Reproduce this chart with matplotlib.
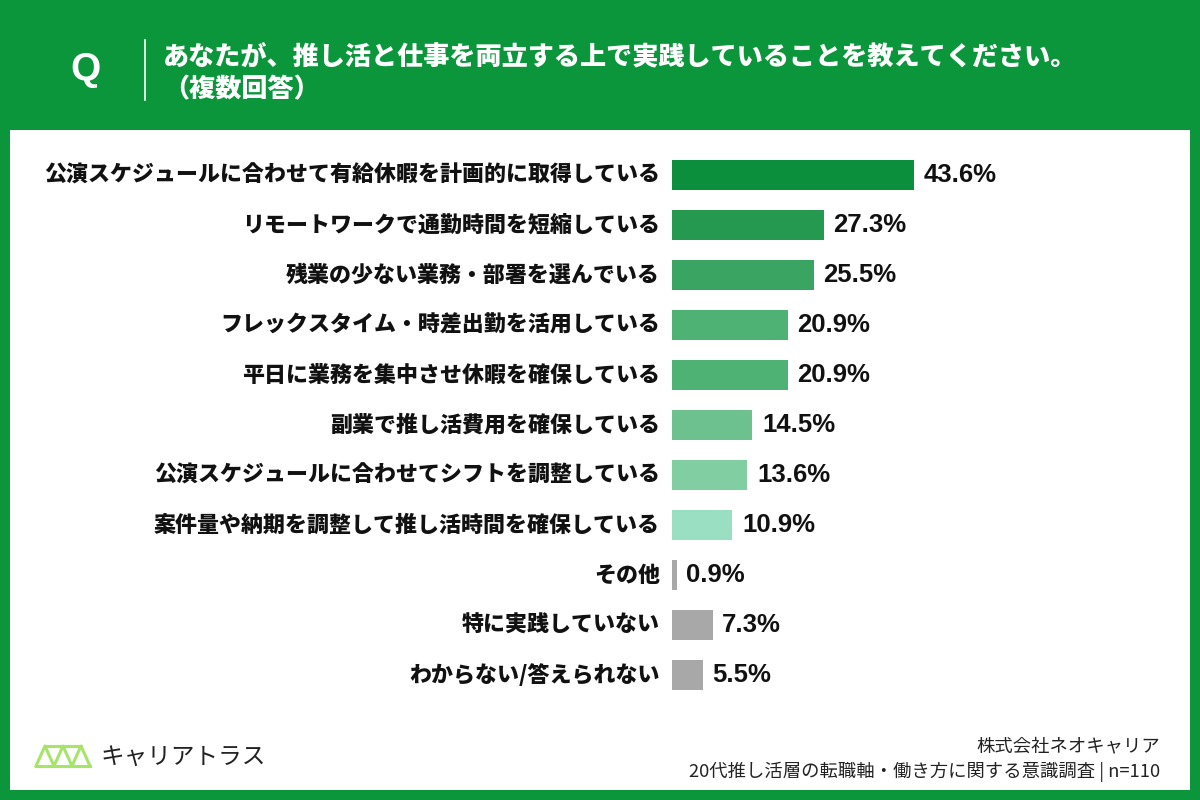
import numpy as np
import matplotlib
matplotlib.use("Agg")
import matplotlib.pyplot as plt
import matplotlib.patches as patches

plt.rcParams['font.family'] = ['Noto Sans CJK JP', 'DejaVu Sans']

# data
labels = [
    "公演スケジュールに合わせて有給休暇を計画的に取得している",
    "リモートワークで通勤時間を短縮している",
    "残業の少ない業務・部署を選んでいる",
    "フレックスタイム・時差出勤を活用している",
    "平日に業務を集中させ休暇を確保している",
    "副業で推し活費用を確保している",
    "公演スケジュールに合わせてシフトを調整している",
    "案件量や納期を調整して推し活時間を確保している",
    "その他",
    "特に実践していない",
    "わからない/答えられない",
]
values = [43.6, 27.3, 25.5, 20.9, 20.9, 14.5, 13.6, 10.9, 0.9, 7.3, 5.5]
colors = ["#0b8f3d", "#25994f", "#3aa463", "#4db274", "#4db274",
          "#6cc18f", "#80cea1", "#9adfc2", "#a8a8a8", "#a8a8a8", "#a8a8a8"]

title_line1 = "あなたが、推し活と仕事を両立する上で実践していることを教えてください。"
title_line2 = "（複数回答）"
source_line1 = "株式会社ネオキャリア"
source_line2 = "20代推し活層の転職軸・働き方に関する意識調査 | n=110"

GREEN = "#0b963c"
LOGO = "#a6e46a"
W, H = 1200, 800

fig = plt.figure(figsize=(12, 8), dpi=100)
fig.patch.set_facecolor(GREEN)

# white panel
fig.add_artist(patches.Rectangle((10 / W, 10 / H), 1180 / W, 660 / H,
                                 transform=fig.transFigure,
                                 facecolor="white", edgecolor="none", zorder=0))

# header
fig.text(85 / W, 1 - 70 / H, "Q", color="white", fontsize=28,
         fontweight="bold", family=["Liberation Sans"], ha="center", va="center")
fig.add_artist(plt.Line2D([145 / W, 145 / W], [1 - 40 / H, 1 - 100 / H],
                          transform=fig.transFigure, color="white", lw=1.2))
fig.text(163 / W, 1 - 57 / H, title_line1, color="white", fontsize=18.8,
         fontweight="heavy", ha="left", va="center")
fig.text(163 / W, 1 - 89 / H, title_line2, color="white", fontsize=18.8,
         fontweight="heavy", ha="left", va="center")

# bars
ax = fig.add_axes([672 / W, 1 - 700 / H, 500 / W, 550 / H])
ax.set_facecolor("none")
y = np.arange(len(values))
ax.barh(y, values, height=0.6, color=colors, edgecolor="none")
ax.set_xlim(0, 500 / 5.55)
ax.set_ylim(len(values) - 0.5, -0.5)
ax.axis("off")

for yi, v, lab in zip(y, values, labels):
    ax.text(v + 1.7, yi, f"{v:.1f}%", va="center", ha="left", fontsize=18.5,
            fontweight="bold", family=["Liberation Sans"], color="#111111")
    ax.text(-2.2, yi, lab, va="center", ha="right", fontsize=15.8,
            fontweight="heavy", color="#111111")

# logo (truss)
lx0, ly0 = 36 / W, 1 - 766 / H
tw, th = 18 / W, 20 / H
xs = [lx0 + k * tw / 2 for k in range(7)]
ys = [ly0 + (th if k % 2 else 0) for k in range(7)]
fig.add_artist(plt.Line2D(xs, ys, color=LOGO, lw=2.2, transform=fig.transFigure))
fig.add_artist(plt.Line2D([lx0, lx0 + 3 * tw], [ly0, ly0], color=LOGO,
                          lw=2.2, transform=fig.transFigure))
fig.add_artist(plt.Line2D([lx0 + 0.5 * tw, lx0 + 2.5 * tw], [ly0 + th, ly0 + th],
                          color=LOGO, lw=2.2, transform=fig.transFigure))
fig.text(100 / W, 1 - 757 / H, "キャリアトラス", color="#222222", fontsize=17,
         ha="left", va="center")

# source
fig.text(1160 / W, 1 - 746 / H, source_line1, color="#222222", fontsize=13.2,
         ha="right", va="center")
fig.text(1160 / W, 1 - 772 / H, source_line2, color="#222222", fontsize=13.2,
         ha="right", va="center")

fig.savefig("out.png", dpi=100, facecolor=fig.get_facecolor())
